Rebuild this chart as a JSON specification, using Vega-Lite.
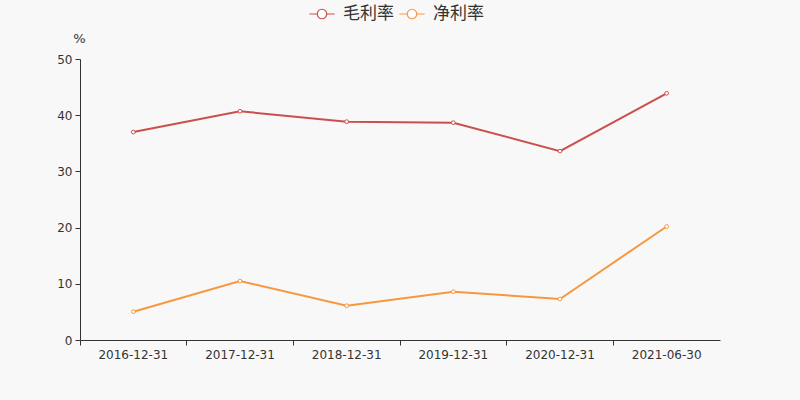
{
  "$schema": "https://vega.github.io/schema/vega-lite/v6.json",
  "width": 640,
  "height": 281,
  "autosize": {"type": "none"},
  "padding": {"left": 80, "top": 59, "right": 80, "bottom": 60},
  "background": "#f8f8f8",
  "config": {
    "view": {"stroke": null},
    "font": "DejaVu Sans",
    "axis": {"labelColor": "#333333", "labelFontSize": 12, "domainColor": "#333333", "tickColor": "#333333", "grid": false, "labelFont": "DejaVu Sans"}
  },
  "data": {
    "values": [
      {"date": "2016-12-31", "series": "毛利率", "value": 37.0},
      {"date": "2017-12-31", "series": "毛利率", "value": 40.7},
      {"date": "2018-12-31", "series": "毛利率", "value": 38.85},
      {"date": "2019-12-31", "series": "毛利率", "value": 38.67},
      {"date": "2020-12-31", "series": "毛利率", "value": 33.6},
      {"date": "2021-06-30", "series": "毛利率", "value": 43.9},
      {"date": "2016-12-31", "series": "净利率", "value": 5.04},
      {"date": "2017-12-31", "series": "净利率", "value": 10.5},
      {"date": "2018-12-31", "series": "净利率", "value": 6.1},
      {"date": "2019-12-31", "series": "净利率", "value": 8.6},
      {"date": "2020-12-31", "series": "净利率", "value": 7.3},
      {"date": "2021-06-30", "series": "净利率", "value": 20.2}
    ]
  },
  "encoding": {
    "x": {
      "field": "date", "type": "nominal", "sort": null,
      "scale": {"type": "band", "paddingInner": 0, "paddingOuter": 0},
      "axis": {"title": null, "labelAngle": 0, "bandPosition": 0, "tickSize": 5, "labelPadding": 4, "domainWidth": 1}
    },
    "y": {
      "field": "value", "type": "quantitative",
      "scale": {"domain": [0, 50], "nice": false},
      "axis": {"values": [0, 10, 20, 30, 40, 50], "title": "%", "titleAngle": 0, "titleX": -1, "titleY": -21, "titleAlign": "center", "titleBaseline": "middle", "titleFontSize": 13, "titleFontWeight": "normal", "titleColor": "#333333", "titleFont": "DejaVu Sans", "tickSize": 5, "labelPadding": 3}
    },
    "color": {
      "field": "series", "type": "nominal",
      "scale": {"domain": ["毛利率", "净利率"], "range": ["#c9504c", "#f7983f"]},
      "legend": {
        "orient": "none", "legendX": 233, "legendY": -54, "direction": "horizontal",
        "title": null,
        "symbolType": "M-1.6,0H-0.6M0.6,0H1.6M-0.6,0A0.6,0.6 0 1,0 0.6,0A0.6,0.6 0 1,0 -0.6,0",
        "symbolSize": 250, "symbolStrokeWidth": 1.2, "symbolFillColor": "#ffffff",
        "labelFontSize": 17, "labelColor": "#333333", "labelFont": "Noto Sans CJK SC",
        "columnPadding": 2, "labelOffset": 12
      }
    }
  },
  "mark": {"type": "line", "strokeWidth": 2, "point": {"filled": false, "fill": "#ffffff", "fillOpacity": 1, "size": 14, "strokeWidth": 1}}
}
